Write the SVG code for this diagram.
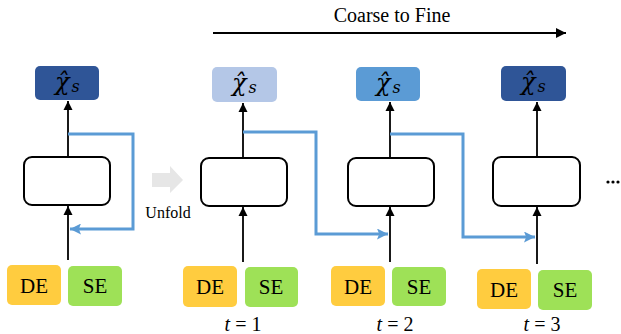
<svg xmlns="http://www.w3.org/2000/svg" width="621" height="334" viewBox="0 0 621 334">
<defs>
<marker id="ah" viewBox="0 0 10 10" refX="10" refY="5" markerWidth="9" markerHeight="10" markerUnits="userSpaceOnUse" orient="auto"><path d="M0,0 L10,5 L0,10 Z" fill="#000"/></marker>
<marker id="ahb" viewBox="0 0 10 10" refX="10" refY="5" markerWidth="13" markerHeight="11" markerUnits="userSpaceOnUse" orient="auto"><path d="M0,0 L10,5 L0,10 L2,5 Z" fill="#5B9BD5"/></marker>
<marker id="ahl" viewBox="0 0 10 10" refX="10" refY="5" markerWidth="16" markerHeight="10" markerUnits="userSpaceOnUse" orient="auto"><path d="M0,0 L10,5 L0,10 Z" fill="#000"/></marker>
</defs>
<style>
.t{font-family:"Liberation Serif","Times New Roman",serif;fill:#000}
.mdl{fill:#fff;stroke:#000;stroke-width:2}
.de{fill:#FFCC3F}
.se{fill:#9EE157}
.blk{stroke:#000;stroke-width:1.8;fill:none}
.blu{stroke:#5B9BD5;stroke-width:3;fill:none}
.lbl{font-family:"Liberation Serif","Times New Roman",serif;font-size:21px;text-anchor:middle}
.xs{font-family:"DejaVu Serif","Liberation Serif",serif;font-style:italic;font-size:24px;fill:#000}
.sub{font-size:16px}
</style>
<rect width="621" height="334" fill="#fff"/>

<g id="title">
<text class="t" x="392" y="22" font-size="20" text-anchor="middle">Coarse to Fine</text>
<line x1="213" y1="33" x2="566" y2="33" stroke="#000" stroke-width="2" marker-end="url(#ahl)"/>
</g>

<g id="unfold">
<path d="M152,173 L170,173 L170,166 L183,180 L170,193 L170,187 L152,187 Z" fill="#E6E6E6"/>
<text class="t" x="168" y="218" font-size="16" text-anchor="middle">Unfold</text>
</g>

<g id="connectors">
<line class="blk" x1="68" y1="260" x2="68" y2="206" marker-end="url(#ah)"/>
<line class="blk" x1="68" y1="157" x2="68" y2="101" marker-end="url(#ah)"/>
<path class="blu" d="M68,134 H133 V229 H70" marker-end="url(#ahb)"/>
<line class="blk" x1="243" y1="262" x2="243" y2="207" marker-end="url(#ah)"/>
<line class="blk" x1="243" y1="158" x2="243" y2="103" marker-end="url(#ah)"/>
<path class="blu" d="M243,132 H316 V234 H388" marker-end="url(#ahb)"/>
<line class="blk" x1="390" y1="262" x2="390" y2="207" marker-end="url(#ah)"/>
<line class="blk" x1="390" y1="158" x2="390" y2="102" marker-end="url(#ah)"/>
<path class="blu" d="M390,134 H463 V237 H535" marker-end="url(#ahb)"/>
<line class="blk" x1="537" y1="264" x2="537" y2="207" marker-end="url(#ah)"/>
<line class="blk" x1="537" y1="157" x2="537" y2="102" marker-end="url(#ah)"/>
</g>

<g id="out0"><rect x="35" y="66" width="64" height="34" rx="5" fill="#2F5597"/><text class="xs" x="55" y="90">χ̂<tspan class="sub" dx="2" dy="2">s</tspan></text></g>
<g id="out1"><rect x="212" y="67" width="65" height="35" rx="5" fill="#B4C7E7"/><text class="xs" x="232" y="91">χ̂<tspan class="sub" dx="2" dy="2">s</tspan></text></g>
<g id="out2"><rect x="356" y="67" width="64" height="34" rx="5" fill="#5B9BD5"/><text class="xs" x="376" y="91">χ̂<tspan class="sub" dx="2" dy="2">s</tspan></text></g>
<g id="out3"><rect x="501" y="66" width="65" height="35" rx="5" fill="#2F5597"/><text class="xs" x="521" y="90">χ̂<tspan class="sub" dx="2" dy="2">s</tspan></text></g>

<g id="model0"><rect class="mdl" x="24" y="157" width="86" height="48" rx="8"/></g>
<g id="model1"><rect class="mdl" x="201" y="158" width="86" height="48" rx="8"/></g>
<g id="model2"><rect class="mdl" x="348" y="158" width="86" height="48" rx="8"/></g>
<g id="model3"><rect class="mdl" x="493" y="157" width="87" height="49" rx="8"/></g>

<g id="de0"><rect class="de" x="7" y="265" width="54" height="40" rx="5"/><text class="t lbl" x="34" y="293">DE</text></g>
<g id="se0"><rect class="se" x="68" y="266" width="54" height="40" rx="5"/><text class="t lbl" x="95" y="293">SE</text></g>
<g id="de1"><rect class="de" x="183" y="266" width="54" height="41" rx="5"/><text class="t lbl" x="210" y="294">DE</text></g>
<g id="se1"><rect class="se" x="245" y="267" width="53" height="40" rx="5"/><text class="t lbl" x="271" y="294">SE</text></g>
<g id="de2"><rect class="de" x="331" y="266" width="54" height="40" rx="5"/><text class="t lbl" x="358" y="294">DE</text></g>
<g id="se2"><rect class="se" x="392" y="267" width="54" height="39" rx="5"/><text class="t lbl" x="419" y="294">SE</text></g>
<g id="de3"><rect class="de" x="477" y="269" width="54" height="40" rx="5"/><text class="t lbl" x="504" y="297">DE</text></g>
<g id="se3"><rect class="se" x="538" y="270" width="54" height="40" rx="5"/><text class="t lbl" x="565" y="297">SE</text></g>

<g id="tlabels" class="t" font-size="20" text-anchor="middle">
<text x="243" y="331"><tspan font-style="italic">t</tspan> = 1</text>
<text x="395" y="331"><tspan font-style="italic">t</tspan> = 2</text>
<text x="542" y="331"><tspan font-style="italic">t</tspan> = 3</text>
</g>

<g id="dots" fill="#000">
<circle cx="608" cy="182" r="1.6"/><circle cx="613" cy="182" r="1.6"/><circle cx="618" cy="182" r="1.6"/>
</g>
</svg>
